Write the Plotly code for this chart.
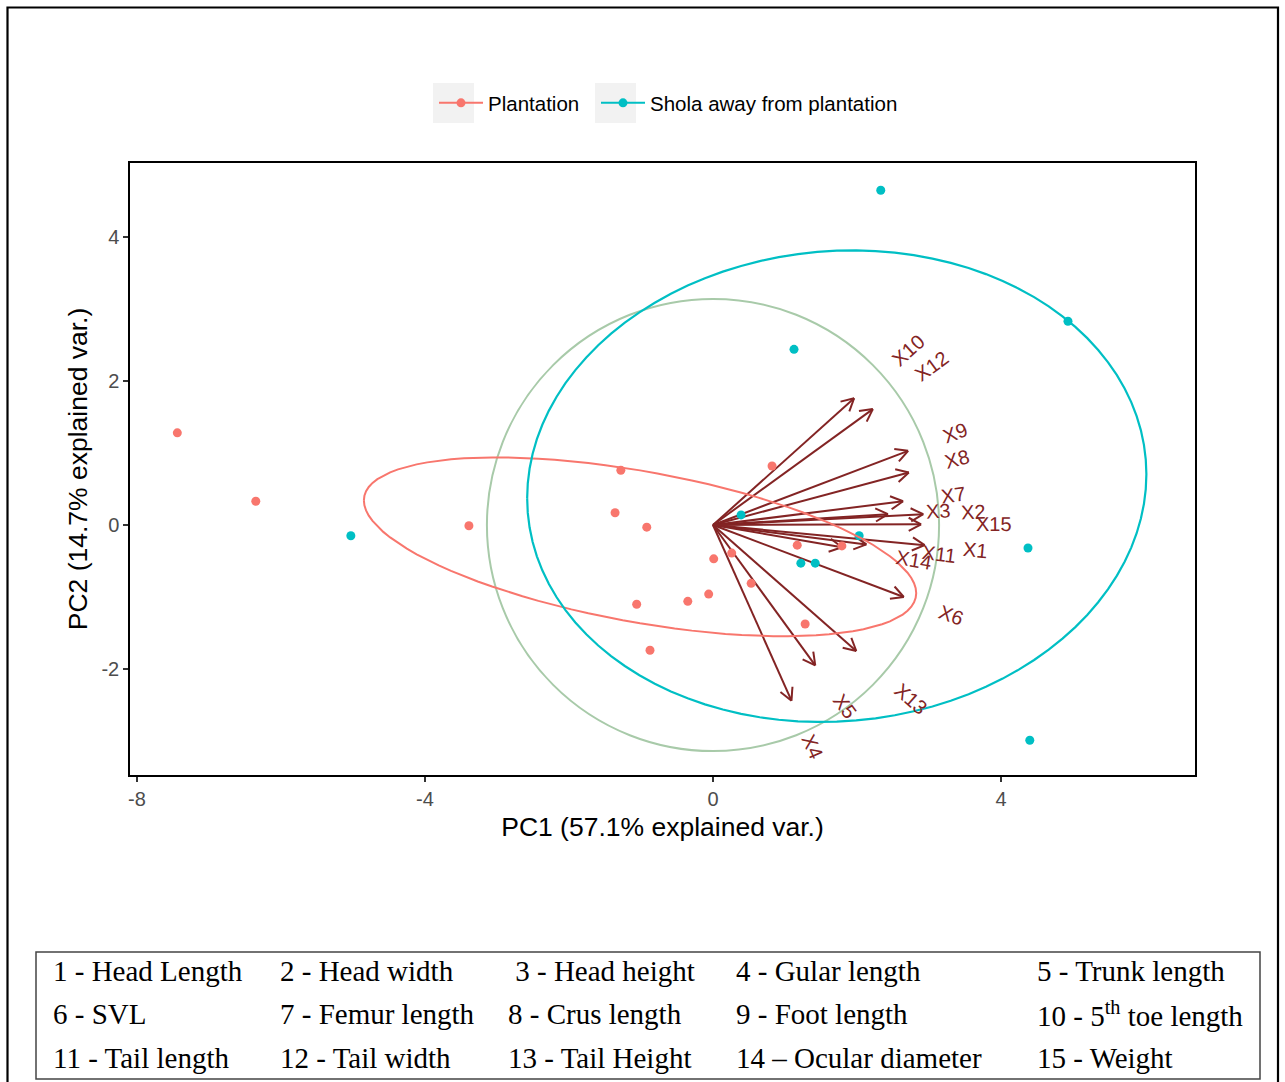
import numpy as np
import plotly.graph_objects as go

# ---------------- data ----------------
plant_x = [-7.44, -6.35, -3.39, -1.36, -1.28, -0.92, -1.06, -0.875, -0.35, -0.06,
           0.01, 0.26, 0.53, 0.82, 1.17, 1.28, 1.79]
plant_y = [1.28, 0.33, -0.01, 0.17, 0.76, -0.03, -1.10, -1.74, -1.06, -0.96,
           -0.47, -0.39, -0.81, 0.82, -0.28, -1.375, -0.29]

shola_x = [2.33, 4.93, 1.125, 0.39, 2.03, 1.22, 1.42, -5.03, 4.375, 4.40]
shola_y = [4.65, 2.83, 2.44, 0.14, -0.15, -0.53, -0.53, -0.15, -0.32, -2.99]

var_names = ["X1", "X2", "X3", "X4", "X5", "X6", "X7", "X8", "X9", "X10",
             "X11", "X12", "X13", "X14", "X15"]
load_x = [2.94, 2.92, 2.43, 1.09, 1.42, 2.65, 2.64, 2.72, 2.71, 1.96,
          2.13, 2.22, 1.99, 1.79, 2.89]
load_y = [-0.28, 0.15, 0.15, -2.44, -1.95, -1.00, 0.33, 0.73, 1.03, 1.76,
          -0.27, 1.61, -1.75, -0.31, 0.01]

circle_radius = 3.14
group_names = ["Plantation", "Shola away from plantation"]

x_ticks = [-8, -4, 0, 4]
y_ticks = [-2, 0, 2, 4]
x_title = "PC1 (57.1% explained var.)"
y_title = "PC2 (14.7% explained var.)"

table_rows = [
    ["1 - Head Length", "2 - Head width", "\u00a03 - Head height", "4 - Gular length", "5 - Trunk length"],
    ["6 - SVL", "7 - Femur length", "8 - Crus length", "9 - Foot length", "10 - 5<sup>th</sup> toe length"],
    ["11 - Tail length", "12 - Tail width", "13 - Tail Height", "14 \u2013 Ocular diameter", "15 - Weight"],
]

# ---------------- style / layout ----------------
RED = "#F8766D"
CYAN = "#00BFC4"
ARROW = "#832424"
CIRCLE = "#A8CAA9"
W, H = 1285, 1082
ML, MR, MT, MB = 130, 90, 163, 307
PW, PH = W - ML - MR, H - MT - MB
PX_PER_UNIT = 72.0
x0_px = 713.0   # pixel of x=0 in page
y0_px = 525.0   # pixel of y=0 in page
xr = [(ML - x0_px) / PX_PER_UNIT, (W - MR - x0_px) / PX_PER_UNIT]
yr = [(y0_px - (H - MB)) / PX_PER_UNIT, (y0_px - MT) / PX_PER_UNIT]


def px_x(p):
    return (p - ML) / PW


def px_y(p):
    return (H - MB - p) / PH


def ellipse(x, y, prob=0.68, n=101):
    x = np.asarray(x, float)
    y = np.asarray(y, float)
    sigma = np.cov(x, y)
    mu = np.array([x.mean(), y.mean()])
    ed = np.sqrt(-2 * np.log(1 - prob))
    th = np.linspace(-np.pi, np.pi, n)
    circ = np.column_stack([np.cos(th), np.sin(th)])
    R = np.linalg.cholesky(sigma).T
    e = ed * circ @ R + mu
    return e[:, 0], e[:, 1]


fig = go.Figure()

# arrows (shafts + open heads), built from loadings
head_len = 14 / PX_PER_UNIT
head_ang = np.deg2rad(28)
ax_, ay_ = [], []
for lx, ly in zip(load_x, load_y):
    ax_ += [0, lx, None]
    ay_ += [0, ly, None]
    a = np.arctan2(ly, lx)
    for s in (1, -1):
        b = a + np.pi + s * head_ang
        ax_ += [lx + head_len * np.cos(b), lx, None]
        ay_ += [ly + head_len * np.sin(b), ly, None]
fig.add_trace(go.Scatter(x=ax_, y=ay_, mode="lines", line=dict(color=ARROW, width=2),
                         showlegend=False, hoverinfo="skip"))

# points
fig.add_trace(go.Scatter(x=plant_x, y=plant_y, mode="markers", marker=dict(color=RED, size=9),
                         showlegend=False, name=group_names[0]))
fig.add_trace(go.Scatter(x=shola_x, y=shola_y, mode="markers", marker=dict(color=CYAN, size=9),
                         showlegend=False, name=group_names[1]))

# ellipses
ex, ey = ellipse(plant_x, plant_y)
fig.add_trace(go.Scatter(x=ex, y=ey, mode="lines", line=dict(color=RED, width=2),
                         showlegend=False, hoverinfo="skip"))
ex, ey = ellipse(shola_x, shola_y)
fig.add_trace(go.Scatter(x=ex, y=ey, mode="lines", line=dict(color=CYAN, width=2.2),
                         showlegend=False, hoverinfo="skip"))

# legend entries (one legend per group so each can be placed on its grey key)
for nm, col, lg in zip(group_names, [RED, CYAN], ["legend", "legend2"]):
    fig.add_trace(go.Scatter(x=[None], y=[None], mode="lines+markers", name=nm, legend=lg,
                             line=dict(color=col, width=2), marker=dict(color=col, size=9)))

# variable labels
LBL_FS = 20
for nm, lx, ly in zip(var_names, load_x, load_y):
    tw = LBL_FS * (0.667 + 0.556 * (len(nm) - 1))
    off = 2.05 * tw / PX_PER_UNIT
    L = np.hypot(lx, ly)
    cx = lx + off * lx / L
    cy = ly + off * ly / L
    ang = np.degrees(np.arctan2(ly, lx))
    fig.add_annotation(x=cx, y=cy, xref="x", yref="y", text=nm, showarrow=False,
                       textangle=-ang, font=dict(family="Liberation Sans, Arial", size=LBL_FS, color=ARROW),
                       xanchor="center", yanchor="middle")

shapes = []
# correlation circle
shapes.append(dict(type="circle", xref="x", yref="y", x0=-circle_radius, x1=circle_radius,
                   y0=-circle_radius, y1=circle_radius, line=dict(color=CIRCLE, width=2), layer="below"))
# legend key backgrounds
for left in (433, 595):
    shapes.append(dict(type="rect", xref="paper", yref="paper", x0=px_x(left), x1=px_x(left + 41),
                       y0=px_y(123), y1=px_y(83), fillcolor="#F2F2F2", line=dict(width=0), layer="below"))
# table box
shapes.append(dict(type="rect", xref="paper", yref="paper", x0=px_x(36), x1=px_x(1260),
                   y0=px_y(1079), y1=px_y(952), line=dict(color="#444444", width=1.5)))
# outer frame
shapes.append(dict(type="rect", xref="paper", yref="paper", x0=px_x(7.5), x1=px_x(1278),
                   y0=px_y(1100), y1=px_y(7.5), line=dict(color="black", width=2.2)))

# table text
col_px = [51, 278, 506, 734, 1035]
row_px = [971, 1014, 1058]
for r, row in enumerate(table_rows):
    for c, txt in enumerate(row):
        fig.add_annotation(x=px_x(col_px[c]), y=px_y(row_px[r]), xref="paper", yref="paper",
                           text=txt, showarrow=False, xanchor="left", yanchor="middle",
                           font=dict(family="Liberation Serif, Times New Roman", size=29, color="black"))

axis_common = dict(showgrid=False, zeroline=False, showline=True, linecolor="black", linewidth=1.5,
                   mirror=True, ticks="outside", ticklen=5, tickwidth=1.5, tickcolor="#333333",
                   tickfont=dict(family="Liberation Sans, Arial", size=20, color="#4D4D4D"))

legend_common = dict(orientation="h", xanchor="left", y=px_y(103), yanchor="middle",
                     font=dict(size=20.5, color="black"), bgcolor="rgba(0,0,0,0)", itemwidth=44)

fig.update_layout(
    width=W, height=H,
    margin=dict(l=ML, r=MR, t=MT, b=MB),
    paper_bgcolor="white", plot_bgcolor="white",
    font=dict(family="Liberation Sans, Arial"),
    xaxis=dict(range=xr, tickvals=x_ticks, ticktext=[str(v) for v in x_ticks],
               title=dict(text=x_title, font=dict(size=26.5, color="black"), standoff=9), **axis_common),
    yaxis=dict(range=yr, tickvals=y_ticks, ticktext=[str(v) for v in y_ticks],
               title=dict(text=y_title, font=dict(size=26.5, color="black"), standoff=6), **axis_common),
    legend=dict(x=px_x(434), **legend_common),
    legend2=dict(x=px_x(596), **legend_common),
    shapes=shapes,
)

fig.write_html("out.html")
